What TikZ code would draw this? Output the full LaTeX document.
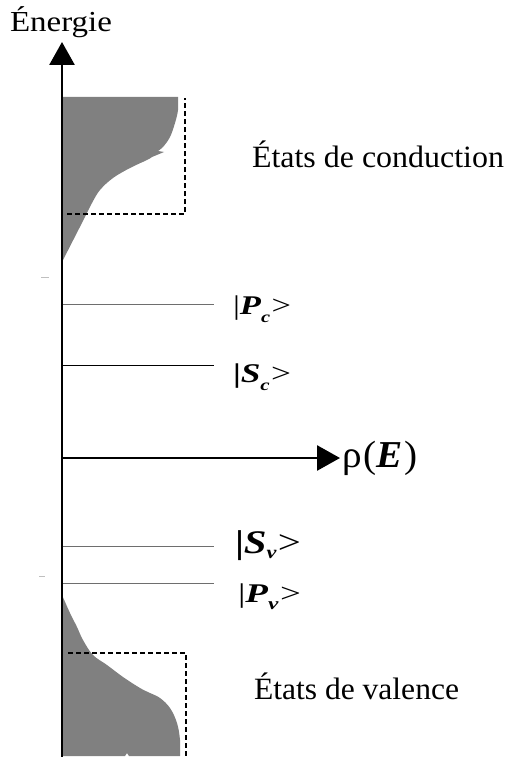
\documentclass[tikz,border=0pt]{standalone}
\usepackage{fontspec}
\setmainfont{Liberation Serif}
\usepackage{graphicx}
\usetikzlibrary{arrows.meta}
\definecolor{dosgray}{RGB}{128,128,128}
\definecolor{levelgray}{RGB}{110,110,110}
\tikzset{
  axisline/.style={line width=2.7pt, -{Triangle[length=23pt,width=25pt]}},
  dosfill/.style={fill=dosgray},
  dashbox/.style={line width=1.8pt, dash pattern=on 5pt off 3pt},
  levelline/.style={line width=1.3pt},
  lbl/.style={anchor=base west, inner sep=0pt, outer sep=0pt},
  tickmark/.style={line width=0.8pt, draw=black!25},
}
\newcommand\mysub[3]{\raisebox{-#3}{\fontsize{#2}{#2}\selectfont\textbf{\textit{#1}}}}
\begin{document}
\begin{tikzpicture}[x=1pt,y=-1pt]
\useasboundingbox (0,0) rectangle (506,757);
% density of states, conduction band
\fill[dosfill] (62,97) -- (178,97) -- plot[smooth, tension=0.6] coordinates {(178,97) (178,110) (175,123) (170,137) (163,147) (158,151)}
  -- (164,152) -- (152,157) -- plot[smooth, tension=0.6] coordinates {(152,157) (147,160) (130,168) (113,178) (100,190) (92,203) (85,217)}
  -- (62,262) -- cycle;
% density of states, valence band
\fill[dosfill] (62,595) -- plot[smooth, tension=0.6] coordinates {(62,595) (70,613) (77,627) (83,640) (93,655) (107,665) (123,677) (140,688) (150,693) (160,698) (170,708) (177,723) (180,740) (180,756)}
  -- (129,756) -- (127,753) -- (125,756) -- (62,756) -- cycle;
% dashed boxes
\coordinate (cb1) at (67,214); \coordinate (cb2) at (185,214); \coordinate (cb3) at (185,98);
\draw[dashbox] (cb1) -- (cb2) -- (cb3);
\coordinate (vb1) at (68,653); \coordinate (vb2) at (186,653); \coordinate (vb3) at (186,757);
\draw[dashbox] (vb1) -- (vb2) -- (vb3);
% levels
\coordinate (pcL) at (63,304.7); \coordinate (pcR) at (214,304.7);
\coordinate (scL) at (63,365.5); \coordinate (scR) at (214,365.5);
\coordinate (svL) at (63,546.7); \coordinate (svR) at (214,546.7);
\coordinate (pvL) at (63,583.5); \coordinate (pvR) at (214,583.5);
\draw[levelline, draw=levelgray] (pcL) -- (pcR);
\draw[levelline, draw=black] (scL) -- (scR);
\draw[levelline, draw=levelgray] (svL) -- (svR);
\draw[levelline, draw=levelgray] (pvL) -- (pvR);
% small tick marks
\coordinate (t1a) at (41,277); \coordinate (t1b) at (49,277);
\coordinate (t2a) at (39,576); \coordinate (t2b) at (45,576);
\draw[tickmark] (t1a) -- (t1b);
\draw[tickmark] (t2a) -- (t2b);
% axes
\coordinate (origin) at (62,757);
\coordinate (etop) at (62,42);
\coordinate (xaxL) at (62,458);
\coordinate (xaxR) at (340,458);
\draw[axisline] (origin) -- (etop);
\draw[axisline] (xaxL) -- (xaxR);
% labels
\node[lbl] (energie) at (10,32) {\resizebox{102pt}{\height}{\fontsize{29}{32}\selectfont Énergie}};
\node[lbl] (rho) at (342,467) {\resizebox{76pt}{\height}{\fontsize{38}{42}\selectfont ρ\kern2pt(\textbf{\textit{E}}\kern2pt)}};
\node[lbl] (cond) at (252,167) {\resizebox{252pt}{\height}{\fontsize{31}{36}\selectfont États de conduction}};
\node[lbl] (val) at (254,699) {\resizebox{205pt}{\height}{\fontsize{31}{36}\selectfont États de valence}};
\node[lbl] (Pc) at (233,314) {\resizebox{58pt}{\height}{\fontsize{27}{30}\selectfont |\textbf{\textit{P}}\mysub{c}{16}{8pt}\kern1pt>}};
\node[lbl] (Sc) at (233,382) {\resizebox{58pt}{\height}{\fontsize{27}{30}\selectfont \textbf{|}\textbf{\textit{S}}\mysub{c}{16}{8pt}\kern1pt>}};
\node[lbl] (Sv) at (235,553) {\resizebox{66pt}{\height}{\fontsize{33}{36}\selectfont \textbf{|}\textbf{\textit{S}}\mysub{v}{18}{5pt}\kern1pt>}};
\node[lbl] (Pv) at (238,602) {\resizebox{63pt}{\height}{\fontsize{27}{30}\selectfont |\textbf{\textit{P}}\mysub{v}{17}{7pt}\kern1pt>}};
\end{tikzpicture}
\end{document}
